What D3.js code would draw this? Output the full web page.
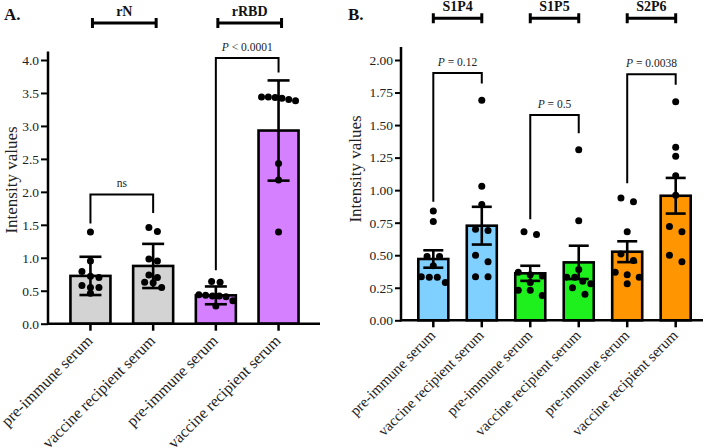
<!DOCTYPE html>
<html><head><meta charset="utf-8">
<script src="https://cdn.jsdelivr.net/npm/d3@7"></script>
<style>
html,body{margin:0;padding:0;background:#fff;}
svg{display:block;font-family:"Liberation Serif","Times New Roman",serif;}
</style></head>
<body>
<svg id="chart" width="709" height="448"></svg>
<script>
// ---------- Data ----------
const categoriesA = ["pre-immune serum","vaccine recipient serum","pre-immune serum","vaccine recipient serum"];
const groupsA = ["rN","rRBD"];
const meansA = [0.725, 0.876, 0.43, 2.93];
const errorsA = [0.29, 0.335, 0.135, 0.76];
const pointsA = [
  [1.39, 0.95, 0.79, 0.72, 0.70, 0.58, 0.55, 0.46, 0.55],
  [1.46, 1.40, 0.98, 0.95, 0.74, 0.70, 0.63, 0.62, 0.55],
  [0.64, 0.63, 0.44, 0.43, 0.42, 0.42, 0.41, 0.35, 0.27],
  [3.44, 3.38, 3.43, 3.44, 3.42, 3.40, 2.43, 2.18, 1.39]
];
const colorsA = ["#d3d3d3","#d3d3d3","#d580ff","#d580ff"];
const ticksA = [0,0.5,1.0,1.5,2.0,2.5,3.0,3.5,4.0];
const testsA = [
  {from:0, to:1, top:1.96, leftEnd:1.52, rightEnd:1.68, p:null, text:"ns"},
  {from:2, to:3, top:4.03, leftEnd:0.81, rightEnd:3.81, p:"P", text:" < 0.0001"}
];

const categoriesB = ["pre-immune serum","vaccine recipient serum","pre-immune serum","vaccine recipient serum","pre-immune serum","vaccine recipient serum"];
const groupsB = ["S1P4","S1P5","S2P6"];
const meansB = [0.471, 0.727, 0.361, 0.445, 0.527, 0.957];
const errorsB = [0.067, 0.145, 0.058, 0.128, 0.08, 0.137];
const pointsB = [
  [0.84, 0.76, 0.49, 0.49, 0.42, 0.335, 0.33, 0.33, 0.29],
  [1.69, 1.03, 0.89, 0.69, 0.70, 0.50, 0.45, 0.335, 0.335],
  [0.68, 0.66, 0.37, 0.35, 0.34, 0.29, 0.23, 0.23, 0.19],
  [1.31, 0.765, 0.39, 0.33, 0.33, 0.30, 0.28, 0.25, 0.20],
  [0.94, 0.91, 0.68, 0.51, 0.46, 0.37, 0.35, 0.33, 0.28],
  [1.68, 1.33, 1.26, 1.11, 0.96, 0.72, 0.68, 0.50, 0.45]
];
const colorsB = ["#80d0ff","#80d0ff","#1ef01e","#1ef01e","#ff9500","#ff9500"];
const ticksB = [0,0.25,0.5,0.75,1.0,1.25,1.5,1.75,2.0];
const testsB = [
  {from:0, to:1, top:1.90, leftEnd:0.91, rightEnd:1.82, p:"P", text:" = 0.12"},
  {from:2, to:3, top:1.577, leftEnd:0.776, rightEnd:1.437, p:"P", text:" = 0.5"},
  {from:4, to:5, top:1.89, leftEnd:1.053, rightEnd:1.81, p:"P", text:" = 0.0038"}
];

// ---------- Drawing ----------
const svg = d3.select("#chart");

// GraphPad-like scatter: values close in y share a row, spread symmetrically
function scatterRows(vals, y, r, sp, maxW){
  const sorted = vals.map(v=>({v,py:y(v)})).sort((a,b)=>a.py-b.py);
  const rows = [];
  sorted.forEach(o=>{
    const last = rows[rows.length-1];
    if(last && o.py - last[0].py < 2*r) last.push(o); else rows.push([o]);
  });
  const out = [];
  rows.forEach(row=>{
    const n = row.length;
    const s = n>1 ? Math.min(sp, maxW/(n-1)) : 0;
    row.forEach((o,k)=>out.push({x:(k-(n-1)/2)*s, py:o.py}));
  });
  return out;
}

function panel(cfg){
  const g = svg.append("g");
  const x = d3.scaleBand().domain(d3.range(cfg.cats.length)).range(cfg.xRange)
    .paddingInner(cfg.pi).paddingOuter(cfg.po);
  const y = d3.scaleLinear().domain([0, cfg.yMax]).range(cfg.yRange);
  const cx = i => x(i) + x.bandwidth()/2;

  // y axis
  const yAxis = d3.axisLeft(y).tickValues(cfg.ticks).tickFormat(cfg.fmt).tickSize(cfg.tickLen).tickPadding(2);
  const ya = g.append("g").attr("transform",`translate(${cfg.xAxis0},0)`).call(yAxis);
  ya.select(".domain").remove();
  ya.selectAll(".tick line").attr("stroke","#000").attr("stroke-width",2);
  ya.selectAll(".tick text").attr("font-size",cfg.tickFont).attr("fill","#222")
    .attr("font-family",'"Liberation Serif","Times New Roman",serif');
  g.append("line").attr("x1",cfg.xAxis0).attr("x2",cfg.xAxis0)
    .attr("y1",y(0)+1).attr("y2",y(cfg.axisTop)).attr("stroke","#000").attr("stroke-width",2.5);

  // bars
  g.selectAll("rect.bar").data(cfg.means).join("rect").attr("class","bar")
    .attr("x",(d,i)=>x(i)).attr("width",x.bandwidth())
    .attr("y",d=>y(d)).attr("height",d=>y(0)-y(d))
    .attr("fill",(d,i)=>cfg.colors[i]).attr("stroke","#000").attr("stroke-width",2.6);

  // error bars
  cfg.means.forEach((m,i)=>{
    const e = cfg.errs[i];
    g.append("line").attr("x1",cx(i)).attr("x2",cx(i)).attr("y1",y(m-e)).attr("y2",y(m+e))
      .attr("stroke","#000").attr("stroke-width",2.6);
    [m-e,m+e].forEach(v=>{
      g.append("line").attr("x1",cx(i)-cfg.cap/2).attr("x2",cx(i)+cfg.cap/2)
        .attr("y1",y(v)).attr("y2",y(v)).attr("stroke","#000").attr("stroke-width",2.6);
    });
  });

  // points
  cfg.points.forEach((vals,i)=>{
    const sw = scatterRows(vals,y,cfg.r,cfg.sp,x.bandwidth()-6);
    g.selectAll(null).data(sw).join("circle")
      .attr("cx",d=>cx(i)+d.x).attr("cy",d=>d.py).attr("r",cfg.r).attr("fill","#000");
  });

  // x axis
  g.append("line").attr("x1",cfg.xAxis0-1).attr("x2",cfg.xAxisEnd)
    .attr("y1",y(0)).attr("y2",y(0)).attr("stroke","#000").attr("stroke-width",2.5);
  cfg.cats.forEach((c,i)=>{
    g.append("line").attr("x1",cx(i)).attr("x2",cx(i)).attr("y1",y(0)).attr("y2",y(0)+7)
      .attr("stroke","#000").attr("stroke-width",2.5);
    g.append("text").attr("transform",`translate(${cx(i)+cfg.lblDx},${y(0)+cfg.lblDy}) rotate(-45)`)
      .attr("text-anchor","end").attr("font-size",cfg.lblFont).attr("fill","#222").text(c);
  });

  // y label
  g.append("text").attr("transform",`translate(${cfg.ylabX},${cfg.ylabY}) rotate(-90)`)
    .attr("text-anchor","middle").attr("font-size",17).attr("fill","#222").text("Intensity values");

  // significance brackets
  cfg.tests.forEach(t=>{
    const x1 = cx(t.from), x2 = cx(t.to);
    g.append("path").attr("d",`M${x1},${y(t.leftEnd)}V${y(t.top)}H${x2}V${y(t.rightEnd)}`)
      .attr("fill","none").attr("stroke","#000").attr("stroke-width",2);
    const tx = g.append("text").attr("x",(x1+x2)/2).attr("y",y(t.top)-7)
      .attr("text-anchor","middle").attr("font-size",11.5).attr("fill","#222");
    if(t.p){ tx.append("tspan").attr("font-style","italic").text(t.p); }
    tx.append("tspan").text(t.text);
  });

  // group brackets
  cfg.groups.forEach((gname,k)=>{
    const a = cx(2*k)+cfg.gOff[0], b = cx(2*k+1)+cfg.gOff[1];
    g.append("path").attr("d",`M${a},${cfg.gY-5}V${cfg.gY+5}M${a},${cfg.gY}H${b}M${b},${cfg.gY-5}V${cfg.gY+5}`)
      .attr("fill","none").attr("stroke","#000").attr("stroke-width",3);
    g.append("text").attr("x",(a+b)/2).attr("y",cfg.gTextY).attr("text-anchor","middle")
      .attr("font-size",14).attr("font-weight","bold").attr("fill","#111").text(gname);
  });

  g.append("text").attr("x",cfg.letterX).attr("y",20).attr("font-size",17)
    .attr("font-weight","bold").attr("fill","#111").text(cfg.letter);
}

panel({
  cats:categoriesA, means:meansA, errs:errorsA, points:pointsA, colors:colorsA, ticks:ticksA,
  tests:testsA, groups:groupsA,
  xRange:[49,320], pi:0.362, po:0.342, yMax:4, yRange:[323.7,60], axisTop:4.13,
  xAxis0:48, xAxisEnd:320, tickLen:7, tickFont:13.5, fmt:d3.format(".1f"),
  cap:22, r:3.5, sp:8.5, lblDx:3, lblDy:18, lblFont:16, ylabX:17, ylabY:180,
  gOff:[2,3], gY:23, gTextY:16, letter:"A.", letterX:4
});

panel({
  cats:categoriesB, means:meansB, errs:errorsB, points:pointsB, colors:colorsB, ticks:ticksB,
  tests:testsB, groups:groupsB,
  xRange:[401,708], pi:0.381, po:0.357, yMax:2, yRange:[320.3,60], axisTop:2.1,
  xAxis0:401, xAxisEnd:703, tickLen:6, tickFont:13.5, fmt:d3.format(".2f"),
  cap:20, r:3.5, sp:12.5, lblDx:3, lblDy:16, lblFont:15, ylabX:361, ylabY:169,
  gOff:[0,0], gY:18.3, gTextY:11, letter:"B.", letterX:348
});
</script>
</body></html>
